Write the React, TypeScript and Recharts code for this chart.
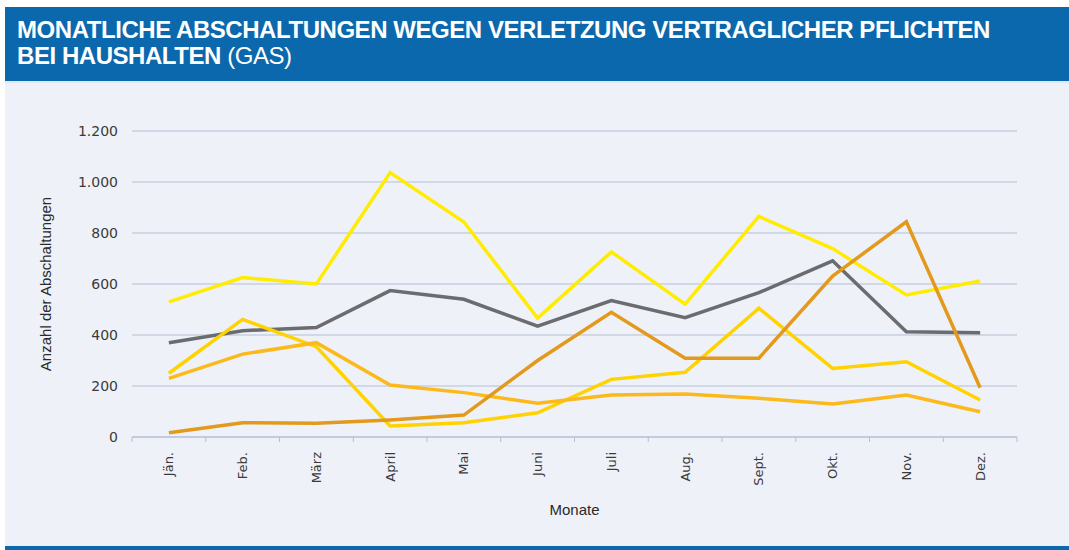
import React from 'react';
import { LineChart, Line, XAxis, YAxis, CartesianGrid } from 'recharts';

const months = ['Jän.', 'Feb.', 'März', 'April', 'Mai', 'Juni', 'Juli', 'Aug.', 'Sept.', 'Okt.', 'Nov.', 'Dez.'];
const seriesYellow = [530, 625, 600, 1037, 843, 466, 726, 521, 865, 739, 557, 612];
const seriesGrey = [370, 417, 429, 574, 540, 435, 535, 468, 566, 691, 413, 409];
const seriesGold = [250, 461, 354, 43, 56, 95, 226, 254, 505, 269, 295, 145];
const seriesAmber = [230, 325, 370, 204, 174, 132, 165, 169, 152, 129, 165, 99];
const seriesOrange = [17, 56, 54, 67, 86, 300, 489, 309, 309, 631, 844, 193];
const yTicks = [0, 200, 400, 600, 800, 1000, 1200];

const data = months.map((m, i) => ({
  month: m,
  yellow: seriesYellow[i],
  grey: seriesGrey[i],
  gold: seriesGold[i],
  amber: seriesAmber[i],
  orange: seriesOrange[i],
}));

const W = 1069;
const CH = 463;
const M = { top: 48, right: 52, bottom: 49, left: 0 };
const YW = 132;
const plotW = W - M.left - M.right - YW;
const plotH = CH - M.top - M.bottom - 60;
const BAND = plotW / months.length;
const GRID = '#b3bfd5';
const BLUE = '#0b68ac';

const fmt = (v: number) => String(v).replace(/\B(?=(\d{3})+(?!\d))/g, '.');

const MonthTick = (props: any) => {
  const { x, y, payload, index } = props;
  const ty = y + 15;
  return (
    <g>
      <line x1={x - BAND / 2} x2={x - BAND / 2} y1={y} y2={y + 5} stroke={GRID} strokeWidth={1} />
      {index === months.length - 1 && (
        <line x1={x + BAND / 2} x2={x + BAND / 2} y1={y} y2={y + 5} stroke={GRID} strokeWidth={1} />
      )}
      <text
        x={x}
        y={ty}
        transform={`rotate(-90, ${x}, ${ty})`}
        textAnchor="end"
        dominantBaseline="central"
        fontFamily="DejaVu Sans, sans-serif"
        fontSize={13}
        fill="#3a3a3a"
      >
        {payload.value}
      </text>
    </g>
  );
};

const YTitle = () => {
  const cx = 45;
  const cy = M.top + plotH / 2;
  return (
    <text
      x={cx}
      y={cy}
      transform={`rotate(-90, ${cx}, ${cy})`}
      textAnchor="middle"
      dominantBaseline="central"
      fontFamily="Liberation Sans, Arial, sans-serif"
      fontSize={15}
      fill="#2a2a2a"
    >
      Anzahl der Abschaltungen
    </text>
  );
};

const XTitle = () => {
  const cx = YW + M.left + plotW / 2;
  const cy = 426;
  return (
    <text
      x={cx}
      y={cy}
      textAnchor="middle"
      dominantBaseline="central"
      fontFamily="Liberation Sans, Arial, sans-serif"
      fontSize={15}
      fill="#2a2a2a"
    >
      Monate
    </text>
  );
};

export default function App() {
  return (
    <div style={{ position: 'fixed', left: 0, top: 0, width: W, height: 550, background: '#ffffff', overflow: 'hidden' }}>
      <div
        style={{
          position: 'absolute',
          left: 5,
          top: 7,
          width: W - 5,
          height: 74,
          background: BLUE,
          color: '#ffffff',
          fontFamily: 'Liberation Sans, Arial, sans-serif',
          fontSize: 24,
          lineHeight: '26px',
          boxSizing: 'border-box',
          padding: '10px 0 0 12px',
        }}
      >
        <div style={{ fontWeight: 700, letterSpacing: -0.45 }}>
          MONATLICHE ABSCHALTUNGEN WEGEN VERLETZUNG VERTRAGLICHER PFLICHTEN
        </div>
        <div style={{ letterSpacing: -0.45 }}>
          <span style={{ fontWeight: 700 }}>BEI HAUSHALTEN</span> (GAS)
        </div>
      </div>
      <div style={{ position: 'absolute', left: 5, top: 81, width: W - 5, height: 2, background: '#dfe8f3' }} />
      <div style={{ position: 'absolute', left: 5, top: 83, width: W - 5, height: CH, background: '#eef2f8' }}>
        <div style={{ position: 'absolute', left: -5, top: 0 }}>
          <LineChart width={W} height={CH} data={data} margin={M}>
            <CartesianGrid vertical={false} stroke={GRID} strokeWidth={1} />
            <XAxis
              dataKey="month"
              height={60}
              padding={{ left: BAND / 2, right: BAND / 2 }}
              axisLine={{ stroke: GRID, strokeWidth: 1 }}
              tickLine={false}
              tickSize={0}
              tickMargin={0}
              interval={0}
              tick={<MonthTick />}
              label={<XTitle />}
            />
            <YAxis
              width={YW}
              domain={[0, 1200]}
              ticks={yTicks}
              interval={0}
              axisLine={false}
              tickLine={false}
              tickSize={0}
              tickMargin={14}
              tickFormatter={fmt}
              tick={{ fontFamily: 'DejaVu Sans, sans-serif', fontSize: 14, fill: '#3a3a3a' }}
              label={<YTitle />}
            />
            <Line dataKey="yellow" stroke="#ffec00" strokeWidth={3.5} dot={false} isAnimationActive={false} />
            <Line dataKey="grey" stroke="#6b6c6f" strokeWidth={3.5} dot={false} isAnimationActive={false} />
            <Line dataKey="gold" stroke="#ffd200" strokeWidth={3.5} dot={false} isAnimationActive={false} />
            <Line dataKey="amber" stroke="#fbb91c" strokeWidth={3.5} dot={false} isAnimationActive={false} />
            <Line dataKey="orange" stroke="#e2991c" strokeWidth={3.5} dot={false} isAnimationActive={false} />
          </LineChart>
        </div>
      </div>
      <div style={{ position: 'absolute', left: 5, top: 546, width: W - 5, height: 4, background: BLUE }} />
    </div>
  );
}
